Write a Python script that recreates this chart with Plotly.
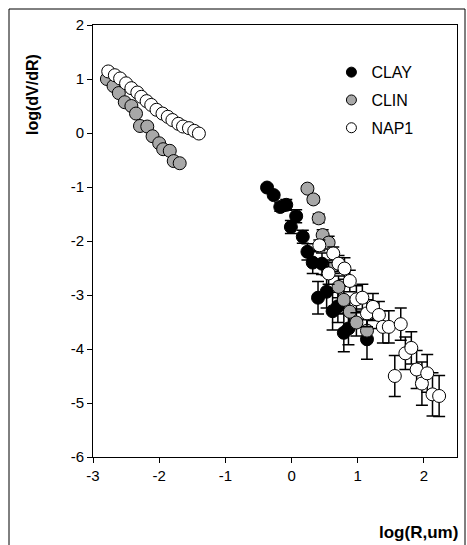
import plotly.graph_objects as go

# CLAY (black)
clay_x = [-0.37, -0.27, -0.17, -0.08, -0.01, 0.07, 0.17, 0.24, 0.32, 0.46, 0.40, 0.53, 0.62, 0.70, 0.79, 0.86, 1.14]
clay_y = [-1.01, -1.15, -1.37, -1.33, -1.74, -1.54, -1.92, -2.20, -2.40, -2.42, -3.05, -2.94, -3.30, -3.21, -3.70, -3.62, -3.82]
clay_err = [0.05, 0.05, 0.08, 0.10, 0.12, 0.12, 0.12, 0.15, 0.20, 0.20, 0.30, 0.30, 0.35, 0.30, 0.35, 0.30, 0.37]

# CLIN (gray)
clin_x = [-2.79, -2.69, -2.61, -2.52, -2.42, -2.35, -2.29, -2.18, -2.10, -2.00, -1.94, -1.84, -1.78, -1.69,
          0.24, 0.33, 0.41, 0.47, 0.56, 0.64, 0.71, 0.79, 0.88, 0.98, 1.14]
clin_y = [1.00, 0.87, 0.74, 0.57, 0.50, 0.36, 0.13, 0.12, -0.06, -0.19, -0.30, -0.33, -0.52, -0.56,
          -1.03, -1.23, -1.58, -1.89, -2.03, -2.45, -2.85, -3.09, -3.31, -3.51, -3.66]
clin_err = [0, 0, 0, 0, 0, 0, 0, 0, 0, 0, 0, 0, 0, 0,
            0.05, 0.06, 0.08, 0.10, 0.12, 0.15, 0.20, 0.25, 0.25, 0.25, 0.20]

# NAP1 (white)
nap1_x = [-2.77, -2.67, -2.59, -2.50, -2.42, -2.33, -2.27, -2.19, -2.12, -2.04, -1.95, -1.87, -1.80, -1.71, -1.64, -1.55, -1.47, -1.40,
          0.42, 0.63, 0.71, 0.56, 0.80, 0.88, 0.98, 1.07, 1.14, 1.23, 1.32, 1.38, 1.47, 1.65, 1.56, 1.72, 1.81, 1.89, 1.97, 2.05, 2.13, 2.23]
nap1_y = [1.14, 1.07, 1.01, 0.92, 0.83, 0.75, 0.67, 0.59, 0.52, 0.43, 0.36, 0.30, 0.24, 0.17, 0.12, 0.09, 0.04, -0.01,
          -2.08, -2.23, -2.42, -2.60, -2.51, -2.74, -3.08, -3.05, -3.34, -3.22, -3.37, -3.59, -3.59, -3.54, -4.50, -4.08, -3.98, -4.38, -4.64, -4.45, -4.84, -4.87]
nap1_err = [0] * 18 + [0.10, 0.12, 0.15, 0.20, 0.20, 0.20, 0.25, 0.25, 0.25, 0.25, 0.25, 0.30, 0.30, 0.30, 0.38, 0.30, 0.30, 0.35, 0.40, 0.35, 0.40, 0.38]

x_ticks = [-3, -2, -1, 0, 1, 2]
x_labels = ["-3", "-2", "-1", "0", "1", "2"]
y_ticks = [-6, -5, -4, -3, -2, -1, 0, 1, 2]
y_labels = ["-6", "-5", "-4", "-3", "-2", "-1", "0", "1", "2"]

series = [
    ("CLAY", clay_x, clay_y, clay_err, "black"),
    ("CLIN", clin_x, clin_y, clin_err, "#a8a8a8"),
    ("NAP1", nap1_x, nap1_y, nap1_err, "white"),
]

fig = go.Figure()
for name, xs, ys, es, col in series:
    fig.add_trace(go.Scatter(
        x=xs, y=ys, mode="markers", name=name, legendgroup=name, showlegend=False,
        marker=dict(size=13, color=col, line=dict(color="black", width=1)),
        error_y=dict(type="data", array=es, visible=True, color="black", thickness=1.5, width=6),
    ))
# legend-only entries (smaller symbols like the reference key)
for name, xs, ys, es, col in series:
    fig.add_trace(go.Scatter(
        x=[None], y=[None], mode="markers", name=name, legendgroup=name, showlegend=True,
        marker=dict(size=10, color=col, line=dict(color="black", width=1)),
    ))

axis_common = dict(showgrid=False, zeroline=False, showline=True, mirror=True, linecolor="black", linewidth=1,
                   ticks="outside", ticklen=5, tickcolor="black", tickfont=dict(family="Arial", size=15, color="black"))

fig.update_layout(
    width=467, height=545,
    margin=dict(l=93, r=10, t=25, b=88),
    paper_bgcolor="white", plot_bgcolor="white",
    xaxis=dict(range=[-3, 2.5], tickvals=x_ticks, ticktext=x_labels, **axis_common),
    yaxis=dict(range=[-6, 2], tickvals=y_ticks, ticktext=y_labels, **axis_common),
    showlegend=True,
    legend=dict(x=0.655, y=0.93, xanchor="left", yanchor="top", bgcolor="rgba(0,0,0,0)",
                font=dict(family="Arial", size=16, color="black"), traceorder="grouped", tracegroupgap=4,
                itemsizing="trace", itemwidth=30),
    font=dict(family="Arial", color="black"),
    annotations=[
        dict(text="<b>log(dV/dR)</b>", xref="paper", yref="paper", x=(32 - 93) / 364, y=(457 - 95) / 432,
             textangle=-90, showarrow=False, font=dict(family="Arial", size=16, color="black"),
             xanchor="center", yanchor="middle"),
        dict(text="<b>log(R,um)</b>", xref="paper", yref="paper", x=(460 - 93) / 364, y=(457 - 532) / 432,
             showarrow=False, font=dict(family="Arial", size=17, color="black"),
             xanchor="right", yanchor="middle"),
    ],
    shapes=[dict(type="rect", xref="paper", yref="paper", x0=(9 - 93) / 364, x1=(465 - 93) / 364,
                 y0=(457 - 560) / 432, y1=(457 - 9) / 432, line=dict(color="black", width=1))],
)

fig.write_html("out.html")
